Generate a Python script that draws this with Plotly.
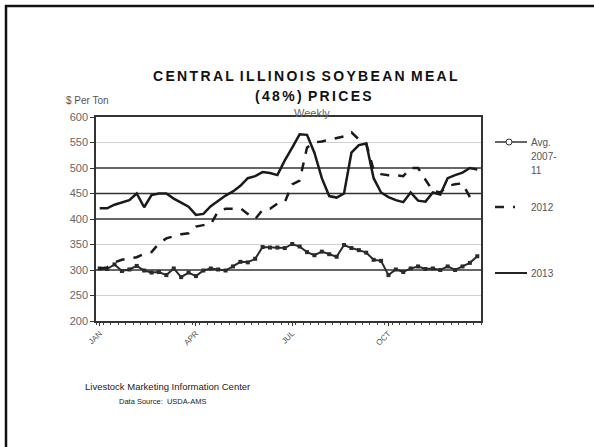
import plotly.graph_objects as go

weeks = list(range(1, 53))
tick_weeks = [1, 14, 27, 40]
tick_labels = ["JAN", "APR", "JUL", "OCT"]
y_ticks = [200, 250, 300, 350, 400, 450, 500, 550, 600]
light_grid = [250, 350, 550]
dark_grid = [300, 400, 450, 500]

avg_2007_11 = [303, 302, 311, 298, 301, 308, 299, 295, 296, 290, 303, 286, 295, 288, 299, 303,
               301, 299, 307, 316, 315, 322, 345, 344, 344, 343, 351, 346, 335, 329, 336, 331,
               326, 349, 343, 339, 334, 320, 318, 290, 301, 296, 303, 307, 302, 303, 300, 307,
               300, 307, 314, 327]
y2012 = [303, 305, 315, 320, 323, 325, 332, 335, 352, 362, 366, 370, 372, 385, 388, 390,
         415, 420, 420, 421, 410, 400, 418, 420, 430, 433, 468, 475, 540, 550, 552, 555,
         558, 562, 570, 556, 548, 496, 488, 486, 486, 484, 500, 500, 477, 455, 452, 465,
         468, 470, 443, None]
y2013 = [421, 421, 428, 432, 437, 450, 423, 447, 450, 450, 440, 432, 424, 408, 410, 425,
         435, 446, 454, 465, 480, 484, 492, 490, 486, 515, 540, 566, 565, 530, 480, 445,
         442, 450, 530, 545, 548, 480, 452, 443, 437, 433, 452, 436, 434, 452, 448, 480,
         486, 491, 500, 497]

W, H = 594, 447
L, R, T, B = 96, 481, 117, 321

def px(x):
    return (x - L) / (R - L)

def py(y):
    return (B - y) / (B - T)

fig = go.Figure()
fig.add_trace(go.Scatter(x=weeks, y=avg_2007_11, mode="lines+markers",
                         line=dict(color="#2b2b2b", width=2),
                         marker=dict(symbol="square", size=4, color="#2b2b2b"),
                         showlegend=False))
fig.add_trace(go.Scatter(x=weeks, y=y2012, mode="lines",
                         line=dict(color="#1a1a1a", width=2.5, dash="dash"),
                         showlegend=False))
fig.add_trace(go.Scatter(x=weeks, y=y2013, mode="lines",
                         line=dict(color="#1a1a1a", width=2.5),
                         showlegend=False))

shapes = []
for g in light_grid:
    shapes.append(dict(type="line", xref="paper", yref="y", x0=0, x1=1, y0=g, y1=g,
                       line=dict(color="#d0d0d0", width=1.2), layer="below"))
for g in dark_grid:
    shapes.append(dict(type="line", xref="paper", yref="y", x0=0, x1=1, y0=g, y1=g,
                       line=dict(color="#333333", width=1.3), layer="below"))
# slide frame edges
shapes.append(dict(type="line", xref="paper", yref="paper", x0=px(5), x1=px(594), y0=py(6), y1=py(6),
                   line=dict(color="#111111", width=2.5)))
shapes.append(dict(type="line", xref="paper", yref="paper", x0=px(6), x1=px(6), y0=py(5), y1=py(448),
                   line=dict(color="#111111", width=2.5)))
# legend
shapes.append(dict(type="line", xref="paper", yref="paper", x0=px(495), x1=px(527),
                   y0=py(142), y1=py(142), line=dict(color="#333333", width=1.5)))
shapes.append(dict(type="circle", xref="paper", yref="paper", x0=px(506), x1=px(512),
                   y0=py(139), y1=py(145), fillcolor="white", line=dict(color="#333333", width=1)))
shapes.append(dict(type="line", xref="paper", yref="paper", x0=px(495), x1=px(515),
                   y0=py(207), y1=py(207), line=dict(color="#222222", width=2.5, dash="dash")))
shapes.append(dict(type="line", xref="paper", yref="paper", x0=px(495), x1=px(527),
                   y0=py(273), y1=py(273), line=dict(color="#222222", width=2)))

ann = []
def text(x, y, s, size, color="#444444", xanchor="left", bold=False):
    ann.append(dict(xref="paper", yref="paper", x=px(x), y=py(y), text=(f"<b>{s}</b>" if bold else s),
                    showarrow=False, xanchor=xanchor, yanchor="middle",
                    font=dict(family="Liberation Sans, Arial", size=size, color=color)))

def spaced(s):
    sp = "\u2006"
    return sp.join(list(s)).replace(sp + " " + sp, " " + sp)

text(305, 76, spaced("CENTRAL ILLINOIS SOYBEAN MEAL"), 14, "#111111", "center", True)
text(313, 96, spaced("(48%) PRICES"), 14, "#111111", "center", True)
text(312, 113, "Weekly", 11, "#666666", "center")
text(64, 100, "$ Per Ton", 10, "#555555")
text(529, 142, "Avg.", 10, "#555555")
text(529, 156, "2007-", 10, "#555555")
text(529, 170, "11", 10, "#555555")
text(529, 207, "2012", 10, "#555555")
text(529, 273, "2013", 10, "#555555")
text(83, 386, "Livestock Marketing Information Center", 9.5, "#222222")
text(117, 401, "Data Source:  USDA-AMS", 7.5, "#222222")

fig.update_layout(
    width=W, height=H,
    margin=dict(l=L, r=W - R, t=T, b=H - B),
    paper_bgcolor="white", plot_bgcolor="white",
    shapes=shapes, annotations=ann,
    showlegend=False,
    font=dict(family="Liberation Sans, Arial", color="#555555"),
)
fig.update_xaxes(range=[0.5, 52.5], tickmode="array", tickvals=tick_weeks, ticktext=tick_labels,
                 tickangle=-45, tickfont=dict(size=8, color="#555555"),
                 showgrid=False, zeroline=False, showline=True, linecolor="#333333", linewidth=1.5,
                 mirror=True, ticks="outside", ticklen=3, tickcolor="#333333", tickwidth=1,
                 minor=dict(ticks="outside", dtick=1, tick0=0.5, ticklen=2, tickwidth=1,
                            tickcolor="#444444", showgrid=False))
fig.update_yaxes(range=[200, 600], tickmode="array", tickvals=y_ticks,
                 tickfont=dict(size=11, color="#666666"),
                 showgrid=False, zeroline=False,
                 showline=True, linecolor="#333333", linewidth=1.5, mirror=True,
                 ticks="outside", ticklen=4, tickcolor="#333333")

fig.write_html("out.html")
